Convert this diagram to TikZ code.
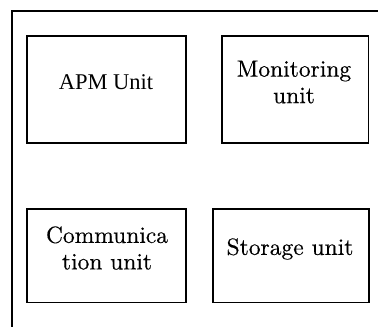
\documentclass[tikz,border=0pt]{standalone}
\usepackage{fontspec}
\newfontfamily\tnr{Liberation Serif}
\newfontfamily\cent{lmroman10-regular}[Extension=.otf, FakeBold=0.4]
\begin{document}
\begin{tikzpicture}[x=1pt,y=-1pt,
  unitbox/.style={draw, line width=1.2pt, rectangle, inner sep=0pt},
  unittext/.style={align=center, font=\cent\fontsize{23.5}{26.5}\selectfont, inner sep=0pt}]
\useasboundingbox (0,0) rectangle (378,327);
% outer frame
\coordinate (ftl) at (12,11);
\coordinate (ftr) at (378,11);
\coordinate (fbl) at (12,327);
\draw[line width=1.3pt] (ftr) -- (ftl) -- (fbl);
% boxes
\node[unitbox, minimum width=159pt, minimum height=107pt] (apm) at (106.5,89.5) {};
\node[unitbox, minimum width=146.5pt, minimum height=107pt] (mon) at (295.25,89.5) {};
\node[unitbox, minimum width=159pt, minimum height=93.5pt] (com) at (106.5,255.75) {};
\node[unitbox, minimum width=156pt, minimum height=93.5pt] (sto) at (291,255.75) {};
% texts
\node[unittext, font=\tnr\fontsize{22.5}{26}\selectfont] (apmt) at (106,82) {APM Unit};
\node[unittext] (mont) at (294,82) {Monitoring\\unit};
\node[unittext] (comt) at (107,248) {Communica\\tion unit};
\node[unittext] (stot) at (290,249) {Storage unit};
\end{tikzpicture}
\end{document}
